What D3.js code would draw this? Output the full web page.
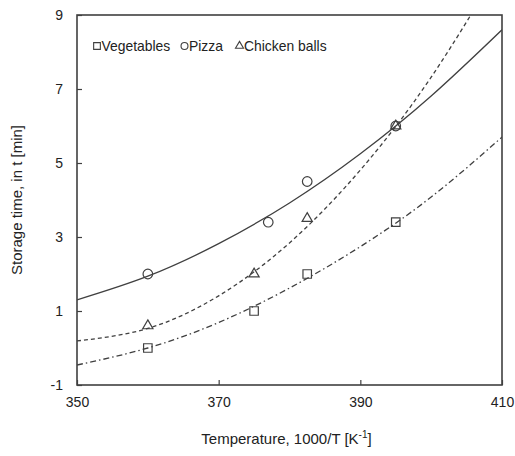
<!DOCTYPE html>
<html>
<head>
<meta charset="utf-8">
<script src="https://cdn.jsdelivr.net/npm/d3@7"></script>
<style>
  body { margin: 0; background: #fff; }
  text { font-family: "Liberation Sans", Arial, sans-serif; fill: #222; }
</style>
</head>
<body>
<div id="chart"></div>
<script>
// Measured points
const tempPts = [360, 375, 382.5, 395];
const pizzaTemp = [360, 377, 382.5, 395];
const pizzaVals = [2.0, 3.4, 4.5, 6.0];
const chickenVals = [0.6, 2.0, 3.5, 6.0];
const vegVals = [0.0, 1.0, 2.0, 3.4];

// Fitted curves
const curveTemp = [350, 360, 370, 380, 390, 400, 410];
const pizzaFit = [1.3, 1.94, 2.82, 3.92, 5.25, 6.81, 8.6];
const chickenFit = [0.19, 0.53, 1.41, 2.84, 4.81, 7.32, 10.4];
const vegFit = [-0.46, 0.0, 0.69, 1.62, 2.74, 4.08, 5.7];

const xTicks = [350, 370, 390, 410];
const yTicks = [-1, 1, 3, 5, 7, 9];

const W = 515, H = 456;
const margin = { top: 15, right: 13, bottom: 71, left: 77 };
const width = W - margin.left - margin.right;
const height = H - margin.top - margin.bottom;
const ink = "#404040";

const svg = d3.select("#chart").append("svg")
    .attr("width", W).attr("height", H);

const g = svg.append("g")
    .attr("transform", `translate(${margin.left},${margin.top})`);

const x = d3.scaleLinear().domain([350, 410]).range([0, width]);
const y = d3.scaleLinear().domain([-1, 9]).range([height, 0]);

g.append("clipPath").attr("id", "clip")
  .append("rect").attr("width", width).attr("height", height);

// Axes (ticks pointing inward, plain hyphen for negatives)
const xAxis = g.append("g")
    .attr("transform", `translate(0,${height})`)
    .call(d3.axisBottom(x).tickValues(xTicks).tickFormat(d => String(d))
      .tickSizeInner(-5).tickSizeOuter(0).tickPadding(12));
const yAxis = g.append("g")
    .call(d3.axisLeft(y).tickValues(yTicks).tickFormat(d => String(d))
      .tickSizeInner(-5).tickSizeOuter(0).tickPadding(14));
[xAxis, yAxis].forEach(a => {
  a.select(".domain").remove();
  a.selectAll("line").attr("stroke", ink).attr("stroke-width", 1.2);
  a.selectAll("text").style("font-size", "14px").attr("fill", "#222");
});

// Fitted lines
const line = d3.line().curve(d3.curveNatural);
const fits = [
  { vals: pizzaFit, dash: null },
  { vals: chickenFit, dash: "4,3" },
  { vals: vegFit, dash: "6,3,1.5,3" }
];
fits.forEach(f => {
  g.append("path")
    .attr("clip-path", "url(#clip)")
    .attr("d", line(curveTemp.map((t, i) => [x(t), y(f.vals[i])])))
    .attr("fill", "none")
    .attr("stroke", ink)
    .attr("stroke-width", 1.3)
    .attr("stroke-dasharray", f.dash);
});

// Markers
const square = d3.symbol().type(d3.symbolSquare).size(72);
const circle = d3.symbol().type(d3.symbolCircle).size(72);
const triangle = d3.symbol().type(d3.symbolTriangle).size(45);

function drawMarkers(temps, vals, sym) {
  g.selectAll(null).data(vals).join("path")
    .attr("d", sym)
    .attr("transform", (d, i) => `translate(${x(temps[i])},${y(d)})`)
    .attr("fill", "none")
    .attr("stroke", ink)
    .attr("stroke-width", 1.2);
}
drawMarkers(tempPts, vegVals, square);
drawMarkers(pizzaTemp, pizzaVals, circle);
drawMarkers(tempPts, chickenVals, triangle);

// Frame
g.append("rect")
  .attr("width", width).attr("height", height)
  .attr("fill", "none").attr("stroke", ink).attr("stroke-width", 1.6);

// Legend
const legend = [
  { name: "Vegetables", sym: d3.symbol().type(d3.symbolSquare).size(45), x: 20 },
  { name: "Pizza", sym: d3.symbol().type(d3.symbolCircle).size(38), x: 107.5 },
  { name: "Chicken balls", sym: d3.symbol().type(d3.symbolTriangle).size(28), x: 162.5 }
];
legend.forEach(l => {
  g.append("path").attr("d", l.sym)
    .attr("transform", `translate(${l.x},${31})`)
    .attr("fill", "none").attr("stroke", ink).attr("stroke-width", 1.1);
  g.append("text").attr("x", l.x + 4.5).attr("y", 36)
    .style("font-size", "13.9px").text(l.name);
});

// Axis titles
const xt = svg.append("text")
  .attr("x", margin.left + width / 2 - 3).attr("y", 444)
  .attr("text-anchor", "middle").style("font-size", "15px");
xt.append("tspan").text("Temperature, 1000/T [K");
xt.append("tspan").attr("dy", -6).style("font-size", "10px").text("-1");
xt.append("tspan").attr("dy", 6).text("]");

svg.append("text")
  .attr("transform", "rotate(-90)")
  .attr("x", -(margin.top + height / 2)).attr("y", 22)
  .attr("text-anchor", "middle").style("font-size", "15px")
  .text("Storage time, in t [min]");
</script>
</body>
</html>
